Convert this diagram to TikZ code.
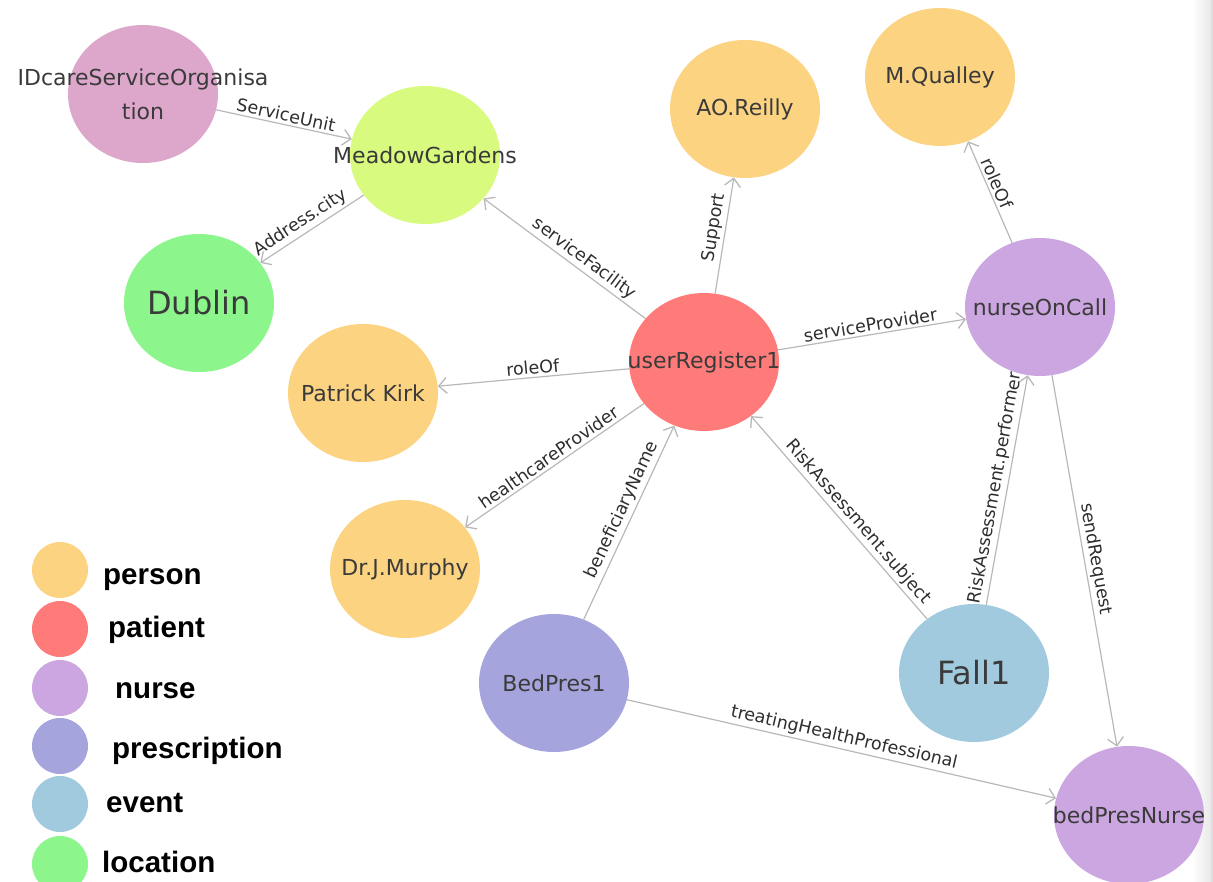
\documentclass[tikz,border=0pt]{standalone}
\usepackage{fontspec}
\setmainfont{DejaVu Sans}
\newfontfamily\keyfont{Liberation Sans}
\usetikzlibrary{shapes.geometric,arrows.meta}

\definecolor{cperson}{HTML}{FCD381}
\definecolor{cpatient}{HTML}{FE7B7A}
\definecolor{cnurse}{HTML}{CBA6E0}
\definecolor{cpresc}{HTML}{A6A4DD}
\definecolor{cevent}{HTML}{A2CADF}
\definecolor{clocation}{HTML}{8CF58C}
\definecolor{cfacility}{HTML}{D8FA7E}
\definecolor{corg}{HTML}{DDA7CC}
\definecolor{linkgray}{HTML}{B8B8B8}
\definecolor{nametext}{HTML}{3A3A3A}

\begin{document}
\begin{tikzpicture}[x=1pt,y=-1pt,
  bubble/.style={ellipse, minimum width=150pt, minimum height=138pt, inner sep=0pt, draw=none},
  bubbletext/.style={font=\fontsize{22}{34}\selectfont, text=nametext, inner sep=0pt, align=center},
  bigbubbletext/.style={font=\fontsize{32}{36}\selectfont, text=nametext, inner sep=0pt},
  link/.style={draw=linkgray, line width=1.2pt,
    -{Straight Barb[length=8pt,width=16pt,line width=1.3pt]}},
  rel/.style={sloped, above, font=\fontsize{17.5}{20}\selectfont, text=black!82, inner sep=2.5pt},
  keydot/.style={circle, minimum size=56pt, inner sep=0pt},
  keytext/.style={anchor=base west, font=\keyfont\bfseries\fontsize{29.5}{32}\selectfont,
    text=black, inner sep=0pt}
]
\useasboundingbox (0,0) rectangle (1213,882);
\clip (0,0) rectangle (1213,882);

% window edge at the right
\shade[left color=white, right color=black!9] (1192,0) rectangle (1211,882);
\fill[black!13] (1211,0) rectangle (1213,882);

% bubbles
\node[bubble, fill=corg]      (ido)  at (143,94)  {};
\node[bubble, fill=cfacility] (mg)   at (425,155) {};
\node[bubble, fill=clocation] (dub)  at (199,303) {};
\node[bubble, fill=cperson]   (pk)   at (363,393) {};
\node[bubble, fill=cperson]   (drm)  at (405,569) {};
\node[bubble, fill=cperson]   (aor)  at (745,109) {};
\node[bubble, fill=cperson]   (mq)   at (940,77)  {};
\node[bubble, fill=cpatient]  (ur)   at (704,362) {};
\node[bubble, fill=cnurse]    (noc)  at (1040,307) {};
\node[bubble, fill=cpresc]    (bp)   at (554,683) {};
\node[bubble, fill=cevent]    (fall) at (974,673) {};
\node[bubble, fill=cnurse]    (bpn)  at (1129,815) {};

% relations
\draw[link] (ido) -- node[rel]{ServiceUnit} (mg);
\draw[link] (mg) -- node[rel,pos=0.55]{Address.city} (dub);
\draw[link] (ur) -- node[rel,pos=0.42]{serviceFacility} (mg);
\draw[link] (ur) -- node[rel,pos=0.55]{Support} (aor);
\draw[link] (noc) -- node[rel,pos=0.55]{roleOf} (mq);
\draw[link] (ur) -- node[rel]{serviceProvider} (noc);
\draw[link] (ur) -- node[rel]{roleOf} (pk);
\draw[link] (ur) -- node[rel]{healthcareProvider} (drm);
\draw[link] (bp) -- node[rel,pos=0.54]{beneficiaryName} (ur);
\draw[link] (fall) -- node[rel,pos=0.44]{RiskAssessment.subject} (ur);
\draw[link] (fall) -- node[rel]{RiskAssessment.performer} (noc);
\draw[link] (noc) -- node[rel]{sendRequest} (bpn);
\draw[link] (bp) -- node[rel]{treatingHealthProfessional} (bpn);

% bubble names
\node[bubbletext]    (ido-t)  at (ido)  {IDcareServiceOrganisa\\tion};
\node[bubbletext]    (mg-t)   at (mg)   {MeadowGardens};
\node[bigbubbletext] (dub-t)  at (dub)  {Dublin};
\node[bubbletext]    (pk-t)   at (pk)   {Patrick Kirk};
\node[bubbletext]    (drm-t)  at (drm)  {Dr.J.Murphy};
\node[bubbletext]    (aor-t)  at (aor)  {AO.Reilly};
\node[bubbletext]    (mq-t)   at (mq)   {M.Qualley};
\node[bubbletext]    (ur-t)   at (ur)   {userRegister1};
\node[bubbletext]    (noc-t)  at (noc)  {nurseOnCall};
\node[bubbletext]    (bp-t)   at (bp)   {BedPres1};
\node[bigbubbletext] (fall-t) at (fall) {Fall1};
\node[bubbletext]    (bpn-t)  at (bpn)  {bedPresNurse};

% legend
\node[keydot, fill=cperson]   (k1) at (60,570) {};
\node[keydot, fill=cpatient]  (k2) at (60,629) {};
\node[keydot, fill=cnurse]    (k3) at (60,688) {};
\node[keydot, fill=cpresc]    (k4) at (60,746) {};
\node[keydot, fill=cevent]    (k5) at (60,804) {};
\node[keydot, fill=clocation] (k6) at (60,864) {};
\node[keytext] (k1-t) at (103,584) {person};
\node[keytext] (k2-t) at (108,637) {patient};
\node[keytext] (k3-t) at (115,698) {nurse};
\node[keytext] (k4-t) at (112,758) {prescription};
\node[keytext] (k5-t) at (106,812) {event};
\node[keytext] (k6-t) at (102,872) {location};
\end{tikzpicture}
\end{document}
